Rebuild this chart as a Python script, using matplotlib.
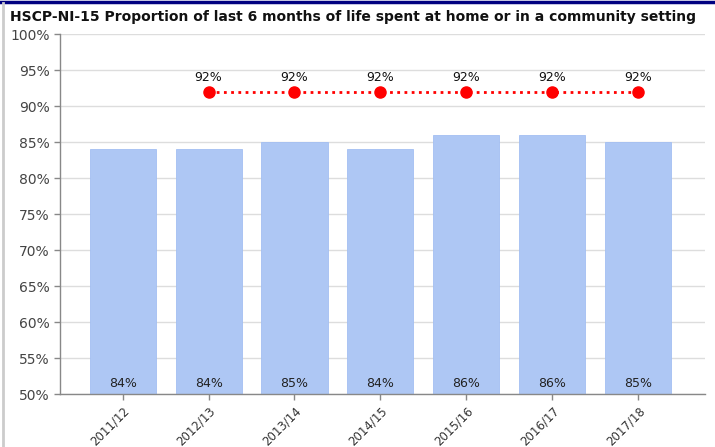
import matplotlib
matplotlib.use("Agg")
import matplotlib.pyplot as plt
from matplotlib.lines import Line2D
import numpy as np

years = ["2011/12", "2012/13", "2013/14", "2014/15", "2015/16", "2016/17", "2017/18"]
local_pct = [84, 84, 85, 84, 86, 86, 85]
scotland_pct = [None, 92, 92, 92, 92, 92, 92]
y_ticks = [50, 55, 60, 65, 70, 75, 80, 85, 90, 95, 100]

fig = plt.figure(figsize=(7.15, 4.47), dpi=100)
ax = fig.add_axes([60 / 715, 1 - 394 / 447, 645 / 715, 360 / 447])

x = np.arange(len(years))
ax.bar(x, local_pct, width=0.77, color="#aec7f4", edgecolor="#a3bff2",
       linewidth=0.6, zorder=2)
for xi, v in zip(x, local_pct):
    ax.text(xi, 50.5, f"{v}%", ha="center", va="bottom", fontsize=9,
            color="#222222", zorder=3)

sx = [xi for xi, v in zip(x, scotland_pct) if v is not None]
sy = [v for v in scotland_pct if v is not None]
ax.plot(sx, sy, color="#ff0000", linestyle=(0, (1, 1.6)), linewidth=2,
        marker="o", markersize=8, zorder=4)
for xi, v in zip(sx, sy):
    ax.text(xi, v + 1.1, f"{v}%", ha="center", va="bottom", fontsize=9,
            color="#111111", zorder=5)

ax.set_ylim(50, 100)
ax.set_xlim(-0.73, 6.78)
ax.set_yticks(y_ticks)
ax.set_yticklabels([f"{t}%" for t in y_ticks], fontsize=10, color="#444444")
ax.set_xticks(x)
ax.set_xticklabels(years, rotation=45, ha="right", rotation_mode="anchor",
                   fontsize=8.5, color="#333333")
ax.grid(axis="y", color="#dddddd", linewidth=1, zorder=0)
ax.set_axisbelow(True)
for s in ("top", "right"):
    ax.spines[s].set_visible(False)
for s in ("left", "bottom"):
    ax.spines[s].set_color("#888888")
    ax.spines[s].set_linewidth(1)
ax.tick_params(axis="both", color="#888888", length=4, width=1)

fig.text(10 / 715, 1 - 17 / 447, "HSCP-NI-15 Proportion of last 6 months of life spent at home or in a community setting",
         fontsize=10, fontweight="bold", color="#111111", va="center", ha="left")

# frame lines around the panel
fig.add_artist(Line2D([0, 1], [1 - 1.5 / 447, 1 - 1.5 / 447], color="#000080", linewidth=2.5,
                      transform=fig.transFigure))
fig.add_artist(Line2D([2.5 / 715, 2.5 / 715], [0, 1 - 3 / 447], color="#cccccc", linewidth=2,
                      transform=fig.transFigure))

fig.savefig("out.png", dpi=100)
